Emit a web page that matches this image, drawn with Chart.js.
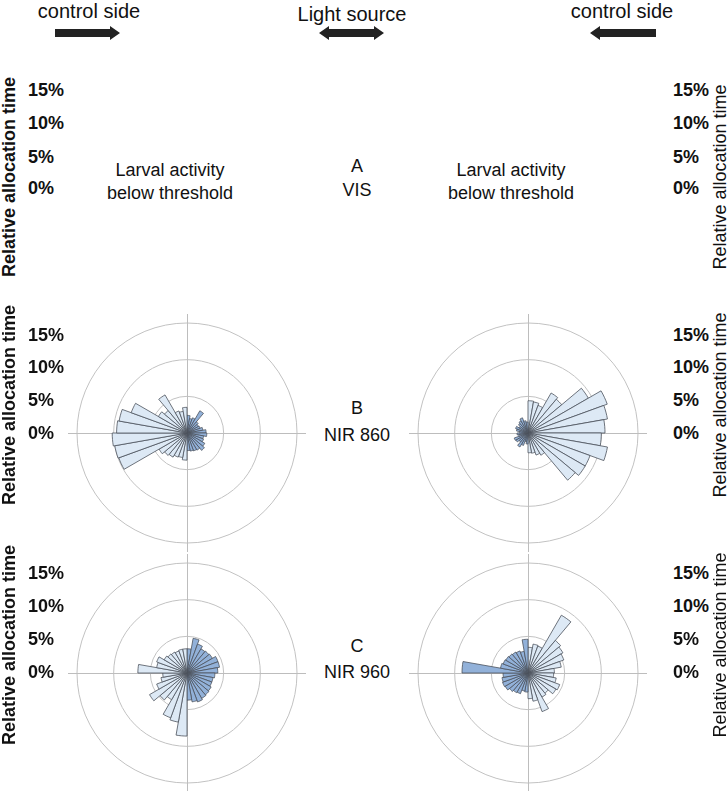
<!DOCTYPE html>
<html>
<head>
<meta charset="utf-8">
<script src="https://cdn.jsdelivr.net/npm/chart.js@4"></script>
<style>
  body { margin: 0; width: 728px; height: 791px; overflow: hidden; background: #fff; position: relative;
         font-family: 'Liberation Sans', Arial, sans-serif; color: #111; }
  .t { position: absolute; white-space: nowrap; line-height: 1; transform: translate(-50%, -50%); font-size: 18px; }
  .tick { position: absolute; white-space: nowrap; line-height: 1; transform: translate(0, -50%); font-size: 18px; font-weight: bold; }
  .ylab { position: absolute; white-space: nowrap; line-height: 1; font-size: 18px;
          transform: translate(-50%, -50%) rotate(-90deg); }
  canvas.rose { position: absolute; }
  svg { position: absolute; left: 0; top: 0; }
</style>
</head>
<body>
<svg width="728" height="60">
  <polygon fill="#222" points="55,29 110,29 110,26 120,33 110,40 110,37 55,37"/>
  <polygon fill="#222" points="319,33 329,26 329,29 374,29 374,26 384,33 374,40 374,37 329,37 329,40"/>
  <polygon fill="#222" points="656,29 600,29 600,26 590,33 600,40 600,37 656,37"/>
</svg>
<canvas class="rose" id="roseB1" width="260" height="260" style="left:57px;top:303px"></canvas>
<canvas class="rose" id="roseB2" width="260" height="260" style="left:398px;top:303px"></canvas>
<canvas class="rose" id="roseC1" width="260" height="260" style="left:57px;top:543px"></canvas>
<canvas class="rose" id="roseC2" width="260" height="260" style="left:398px;top:543px"></canvas>
<script>
// direction bins, 10 degrees each, clockwise from the top
const bins = ['0°','10°','20°','30°','40°','50°','60°','70°','80°','90°','100°','110°',
  '120°','130°','140°','150°','160°','170°','180°','190°','200°','210°','220°','230°',
  '240°','250°','260°','270°','280°','290°','300°','310°','320°','330°','340°','350°'];

// relative allocation time (%) per bin
const nir860Left = [2.4, 2.0, 2.2, 3.5, 2.0, 1.8, 1.9, 2.2, 2.6, 2.7, 2.3, 2.4, 2.8, 3.1, 2.7, 2.6, 2.5, 2.4,
  3.7, 3.4, 3.5, 3.8, 4.0, 4.4, 9.9, 10.0, 10.2, 9.6, 9.4, 8.1, 4.5, 4.0, 6.0, 3.2, 3.0, 3.5];
const nir860Right = [4.4, 4.3, 4.0, 6.3, 6.0, 9.5, 11.5, 11.0, 10.5, 10.0, 11.0, 9.0, 9.0, 8.4, 3.5, 3.2, 2.8, 2.7,
  1.5, 1.2, 1.8, 2.2, 1.6, 1.9, 2.0, 1.3, 1.5, 1.2, 1.6, 1.8, 1.4, 1.7, 1.9, 2.2, 1.7, 1.5];
const nir960Left = [3.3, 4.8, 4.2, 3.8, 3.9, 4.0, 4.5, 4.5, 4.2, 3.8, 3.6, 3.6, 3.8, 3.9, 4.0, 4.2, 4.0, 3.7,
  8.6, 6.8, 6.5, 4.2, 4.8, 5.9, 4.4, 3.6, 3.3, 6.7, 4.2, 4.4, 3.6, 3.4, 3.3, 3.2, 3.3, 3.3];
const nir960Right = [3.5, 4.0, 3.9, 9.1, 5.8, 5.5, 5.2, 4.6, 3.6, 3.5, 3.9, 4.6, 4.4, 3.6, 3.8, 5.6, 3.9, 3.5,
  2.6, 2.5, 3.0, 3.1, 3.3, 3.6, 3.7, 3.6, 3.4, 9.0, 3.8, 3.6, 3.5, 3.4, 3.3, 3.2, 3.0, 4.6];

const tickLabels = ['15%', '10%', '5%', '0%'];
const yTitle = 'Relative allocation time';

const light = '#dde9f5';
const dark = '#92b1d9';

function addText(cls, txt, x, y, extra) {
  const d = document.createElement('div');
  d.className = cls;
  d.textContent = txt;
  d.style.left = x + 'px';
  d.style.top = y + 'px';
  if (extra) Object.assign(d.style, extra);
  document.body.appendChild(d);
}

// header
addText('t', 'control side', 89, 11, { fontSize: '20px' });
addText('t', 'Light source', 352, 14, { fontSize: '20px' });
addText('t', 'control side', 622, 11, { fontSize: '20px' });

// tick labels + axis titles for the three rows
const rowTicks = [[90, 123, 157, 188], [335, 367, 400, 433], [573, 606, 639, 672]];
const rowTitle = [177, 405, 645];
rowTicks.forEach((ys, r) => {
  ys.forEach((y, i) => {
    addText('tick', tickLabels[i], 28, y);
    addText('tick', tickLabels[i], 673, y);
  });
  addText('ylab', yTitle, 9, rowTitle[r], { fontWeight: 'bold' });
  addText('ylab', yTitle, 720, rowTitle[r]);
});

// row labels
addText('t', 'A', 357, 166);
addText('t', 'VIS', 357, 190);
addText('t', 'B', 357, 408);
addText('t', 'NIR 860', 357, 435);
addText('t', 'C', 357, 646);
addText('t', 'NIR 960', 357, 672);
addText('t', 'Larval activity', 170, 170);
addText('t', 'below threshold', 170, 193);
addText('t', 'Larval activity', 511, 170);
addText('t', 'below threshold', 511, 193);

const crossLines = {
  id: 'crossLines',
  beforeDatasetsDraw(chart) {
    const r = chart.scales.r;
    const ctx = chart.ctx;
    const len = r.drawingArea + 9;
    ctx.save();
    ctx.strokeStyle = '#bdbdbd';
    ctx.lineWidth = 1;
    ctx.beginPath();
    ctx.moveTo(r.xCenter - len, r.yCenter + 0.5);
    ctx.lineTo(r.xCenter + len, r.yCenter + 0.5);
    ctx.moveTo(r.xCenter + 0.5, r.yCenter - len);
    ctx.lineTo(r.xCenter + 0.5, r.yCenter + len);
    ctx.stroke();
    ctx.restore();
  }
};

function makeRose(id, values, lightSide) {
  const colors = values.map((v, i) => ((i < 18) === (lightSide === 'right')) ? light : dark);
  new Chart(document.getElementById(id), {
    type: 'polarArea',
    data: {
      labels: bins,
      datasets: [{
        data: values,
        backgroundColor: colors,
        borderColor: '#4b525c',
        borderWidth: 0.8,
        clip: false
      }]
    },
    options: {
      responsive: false,
      animation: false,
      layout: { padding: 20 },
      plugins: { legend: { display: false }, tooltip: { enabled: false } },
      scales: {
        r: {
          min: 0,
          max: 15,
          ticks: { display: false, stepSize: 5 },
          grid: { color: '#c2c2c2', lineWidth: 1 },
          angleLines: { display: false },
          pointLabels: { display: false }
        }
      }
    },
    plugins: [crossLines]
  });
}

makeRose('roseB1', nir860Left, 'left');
makeRose('roseB2', nir860Right, 'right');
makeRose('roseC1', nir960Left, 'left');
makeRose('roseC2', nir960Right, 'right');
</script>
</body>
</html>
